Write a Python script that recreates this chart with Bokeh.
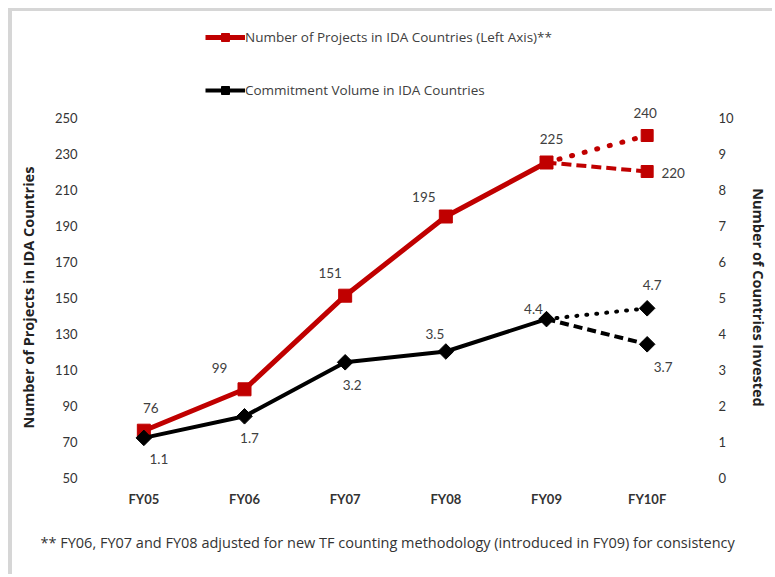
import math
from bokeh.plotting import figure
from bokeh.layouts import column
from bokeh.models import (Range1d, LinearAxis, FixedTicker, Legend, LegendItem,
                          ColumnDataSource, Title, FactorRange)
from bokeh.core.properties import value
from bokeh.embed import file_html
from bokeh.resources import INLINE

# ---- data ----
years = ["FY05", "FY06", "FY07", "FY08", "FY09", "FY10F"]
actual_years = ["FY05", "FY06", "FY07", "FY08", "FY09"]
projects = [76, 99, 151, 195, 225]
projects_high = 240
projects_low = 220
commitment = [1.1, 1.7, 3.2, 3.5, 4.4]
commitment_high = 4.7
commitment_low = 3.7
left_ticks = [50, 70, 90, 110, 130, 150, 170, 190, 210, 230, 250]
right_ticks = [0, 1, 2, 3, 4, 5, 6, 7, 8, 9, 10]
legend_labels = ["Number of Projects in IDA Countries (Left Axis)**",
                 "Commitment Volume in IDA Countries"]

# label offsets (styling)
proj_dx = [7, -25, -15, -22, 5, -2, 26]
proj_dy = [-23, -21, -23, -20, -24, -23, 1]
comm_dx = [15, 5, 7, -11, -13, 5, 16]
comm_dy = [21, 22, 23, -18, -10, -23, 23]

RED = "#C00000"
TXT = "#404040"
FONT = "Lato"
FONT2 = "Open Sans"
DIAMOND = math.pi / 4
PAD_L = 16 / 1.8   # extra frame room (left-axis units)
PAD_R = 16 / 36    # extra frame room (right-axis units)

# ---------- legend strip (its series lie outside its visible range) ----------
top = figure(width=760, height=90, x_range=FactorRange(*years),
             y_range=Range1d(1000, 1001), output_backend="svg", toolbar_location=None,
             min_border_left=81, min_border_right=75, min_border_top=0, min_border_bottom=0)
top.axis.visible = False
top.grid.visible = False
top.outline_line_color = None
lr1 = top.line(actual_years, projects, line_color=RED, line_width=5)
lr2 = top.scatter(actual_years, projects, marker="square", size=13, color=RED)
lk1 = top.line(actual_years, commitment, line_color="black", line_width=4)
lk2 = top.scatter(actual_years, commitment, marker="square", angle=DIAMOND,
                  size=11, color="black")
legend = Legend(items=[
    LegendItem(label=legend_labels[0], renderers=[lr1, lr2]),
    LegendItem(label=legend_labels[1], renderers=[lk1, lk2]),
], location=(112, 1), orientation="vertical")
legend.glyph_width = 40
legend.glyph_height = 20
legend.label_height = 20
legend.label_standoff = 0
legend.spacing = 33
legend.padding = 0
legend.margin = 0
legend.border_line_color = None
legend.background_fill_alpha = 0
legend.label_text_font = FONT2
legend.label_text_font_size = "13.5px"
legend.label_text_color = TXT
top.add_layout(legend, "center")

# ---------- main chart ----------
p = figure(width=760, height=473, x_range=FactorRange(*years),
           y_range=Range1d(50 - PAD_L, 250 + PAD_L), output_backend="svg",
           toolbar_location=None, min_border_left=81, min_border_top=0,
           min_border_right=75, min_border_bottom=81)
p.extra_y_ranges = {"right": Range1d(0 - PAD_R, 10 + PAD_R)}
p.x_range.range_padding = 0
p.outline_line_color = None
p.xgrid.grid_line_color = None
p.ygrid.grid_line_color = None

p.yaxis.ticker = FixedTicker(ticks=left_ticks)
p.yaxis.axis_label = "Number of Projects in IDA Countries"
p.yaxis.axis_label_standoff = 14
right_axis = LinearAxis(y_range_name="right", ticker=FixedTicker(ticks=right_ticks),
                        axis_label="Number of Countries Invested")
right_axis.axis_label_standoff = 12
p.add_layout(right_axis, "right")

for ax in [p.xaxis[0], p.yaxis[0], right_axis]:
    ax.axis_line_color = None
    ax.major_tick_line_color = None
    ax.minor_tick_line_color = None
    ax.major_label_text_font = FONT
    ax.major_label_text_color = "#333333"
    ax.axis_label_text_font = FONT2
    ax.axis_label_text_font_style = "bold"
    ax.axis_label_text_font_size = "14.5px"
    ax.axis_label_text_color = "#222222"
p.yaxis[0].major_label_text_font_size = "13px"
p.yaxis[0].major_label_standoff = 10
right_axis.major_label_text_font_size = "13px"
right_axis.major_label_standoff = 15
p.xaxis[0].major_label_text_font_size = "13px"
p.xaxis[0].major_label_text_font_style = "bold"
p.xaxis[0].major_label_standoff = -9

# projections
p.line(["FY09", "FY10F"], [projects[-1], projects_high], line_color=RED,
       line_width=5, line_dash="1 12", line_cap="round")
p.line(["FY09", "FY10F"], [projects[-1], projects_low], line_color=RED,
       line_width=4, line_dash="10 5")
p.scatter(["FY10F", "FY10F"], [projects_high, projects_low], marker="square",
          size=12, color=RED)
p.line(["FY09", "FY10F"], [commitment[-1], commitment_high], line_color="black",
       line_width=4, line_dash="1 9", line_cap="round", y_range_name="right")
p.line(["FY09", "FY10F"], [commitment[-1], commitment_low], line_color="black",
       line_width=4, line_dash="9 5", y_range_name="right")
p.scatter(["FY10F", "FY10F"], [commitment_high, commitment_low], marker="square",
          angle=DIAMOND, size=11, color="black", y_range_name="right")

# main series
p.line(actual_years, projects, line_color=RED, line_width=5)
p.scatter(actual_years, projects, marker="square", size=13, color=RED)
p.line(actual_years, commitment, line_color="black", line_width=4,
       y_range_name="right")
p.scatter(actual_years, commitment, marker="square", angle=DIAMOND,
          size=11, color="black", y_range_name="right")

# data labels
proj_src = ColumnDataSource(dict(
    x=actual_years + ["FY10F", "FY10F"],
    y=projects + [projects_high, projects_low],
    t=[str(v) for v in projects + [projects_high, projects_low]],
    dx=proj_dx, dy=proj_dy))
p.text(x="x", y="y", text="t", x_offset="dx", y_offset="dy", source=proj_src,
       text_align="center", text_baseline="middle", text_font=value(FONT),
       text_font_size="13.5px", text_color=TXT)
comm_src = ColumnDataSource(dict(
    x=actual_years + ["FY10F", "FY10F"],
    y=commitment + [commitment_high, commitment_low],
    t=[str(v) for v in commitment + [commitment_high, commitment_low]],
    dx=comm_dx, dy=comm_dy))
p.text(x="x", y="y", text="t", x_offset="dx", y_offset="dy", source=comm_src,
       text_align="center", text_baseline="middle", text_font=value(FONT),
       text_font_size="13.5px", text_color=TXT, y_range_name="right")

# footnote
note = Title(text="** FY06, FY07 and FY08 adjusted for new TF counting methodology  (introduced in FY09) for consistency",
             align="left", offset=-53, text_font=FONT2, text_font_size="14.5px",
             text_font_style="normal", text_color="#333333", standoff=43)
p.add_layout(note, "below")

layout = column(top, p, spacing=0,
                styles={"margin-left": "8px", "margin-top": "8px",
                        "border-left": "4px solid #d6d6d6",
                        "border-top": "3px solid #d6d6d6"})
open("out.html", "w").write(file_html(layout, INLINE))
